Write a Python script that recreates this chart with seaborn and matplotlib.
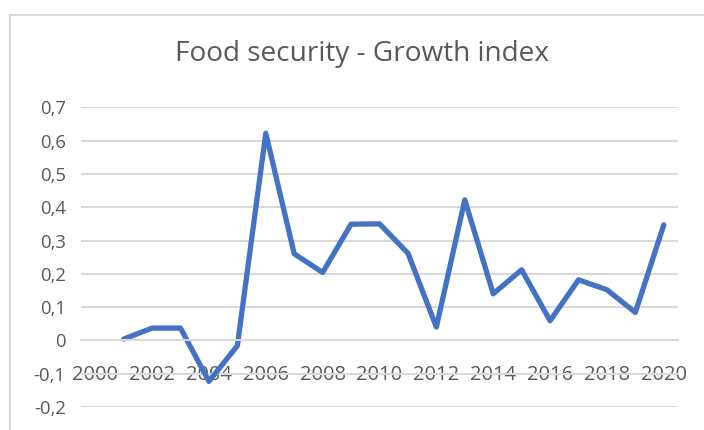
import matplotlib
matplotlib.use("Agg")
import matplotlib.pyplot as plt
import seaborn as sns
import pandas as pd
from matplotlib.patches import Rectangle
from matplotlib.ticker import FuncFormatter

years = list(range(2001, 2021))
growth_index = [0.004, 0.037, 0.037, -0.123, -0.016, 0.622, 0.26, 0.204, 0.349, 0.35,
                0.262, 0.04, 0.422, 0.14, 0.212, 0.059, 0.182, 0.152, 0.084, 0.347]
x_ticks = list(range(2000, 2021, 2))
y_ticks = [-0.2, -0.1, 0, 0.1, 0.2, 0.3, 0.4, 0.5, 0.6, 0.7]
title = "Food security - Growth index"

df = pd.DataFrame({"year": years, "value": growth_index})

sns.set_style("white")
plt.rcParams['font.family'] = ['Open Sans', 'DejaVu Sans']
text_col = "#595959"
grid_col = "#D9D9D9"

W, H = 704, 430
fig = plt.figure(figsize=(W / 100, H / 100), dpi=100)
fig.patches.append(Rectangle((10 / W, -0.1), 1.2, 1 - 15 / H + 0.1, transform=fig.transFigure,
                             fill=False, edgecolor=grid_col, linewidth=1.5))
ax = fig.add_axes([81 / W, 1 - 407 / H, (678 - 81) / W, (407 - 107.3) / H])

sns.lineplot(data=df, x="year", y="value", ax=ax, color="#4472C4", linewidth=3.8,
             solid_joinstyle="round", solid_capstyle="round")

ax.set_xlim(1999.5, 2020.5)
ax.set_ylim(-0.2, 0.7)
ax.set_yticks(y_ticks)
ax.yaxis.grid(True, color=grid_col, linewidth=1.5)
ax.set_axisbelow(True)
for s in ["left", "right", "top"]:
    ax.spines[s].set_visible(False)
ax.spines["bottom"].set_position(("data", 0))
ax.spines["bottom"].set_color(grid_col)
ax.spines["bottom"].set_linewidth(1.5)
ax.set_xticks(x_ticks)
ax.yaxis.set_major_formatter(FuncFormatter(lambda v, p: f"{v:.1f}".replace(".", ",") if abs(v) > 1e-9 else "0"))
ax.tick_params(axis="x", length=0, pad=18, labelsize=14.5, labelcolor=text_col)
ax.tick_params(axis="y", length=0, pad=11, labelsize=13.3, labelcolor=text_col)
ax.set_xlabel("")
ax.set_ylabel("")
ax.patch.set_alpha(0)

fig.text(362 / W, 1 - 54 / H, title, ha="center", va="center", fontsize=20.2, color=text_col)

fig.savefig("out.png", dpi=100)
